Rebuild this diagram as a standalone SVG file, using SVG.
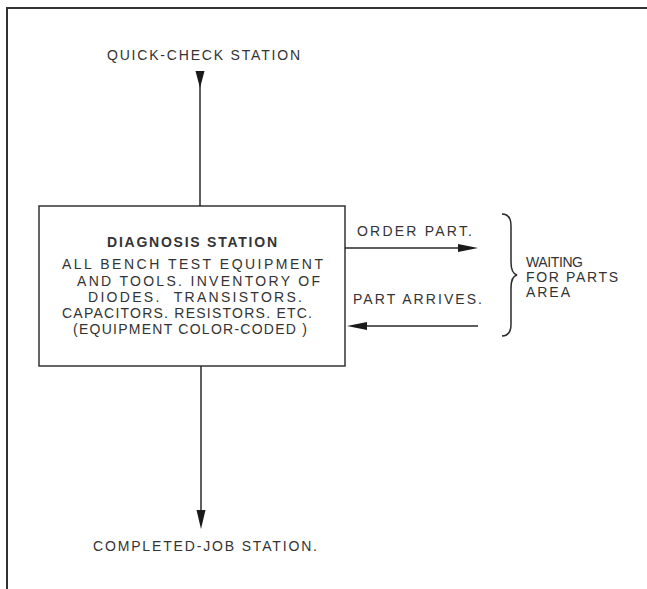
<svg xmlns="http://www.w3.org/2000/svg" width="647" height="589" viewBox="0 0 647 589">
<style>
  .t{font-family:"Liberation Sans",Arial,sans-serif;fill:#333;font-size:14px}
  .b{font-size:14px}
  .h{font-weight:bold;font-size:14px}
  .ln{stroke:#2a2a2a;stroke-width:1.5;fill:none}
  .ah{fill:#1a1a1a}
</style>
<rect width="647" height="589" fill="#fff"/>
<path d="M7,589 L7,8 L647,8" fill="none" stroke="#333" stroke-width="2"/>

<g id="quick-check">
  <text class="t" x="107" y="60" textLength="193" lengthAdjust="spacing">QUICK-CHECK STATION</text>
</g>

<g id="diagnosis">
  <rect x="39" y="206" width="306" height="160" fill="#fff" stroke="#333" stroke-width="1.5"/>
  <text class="t h" x="107" y="247" textLength="170" lengthAdjust="spacing">DIAGNOSIS STATION</text>
  <text class="t b" x="62" y="269" textLength="261" lengthAdjust="spacing">ALL BENCH TEST EQUIPMENT</text>
  <text class="t b" x="77" y="286" textLength="243" lengthAdjust="spacing">AND TOOLS. INVENTORY OF</text>
  <text class="t b" x="88" y="302" textLength="214" lengthAdjust="spacing" xml:space="preserve">DIODES.  TRANSISTORS.</text>
  <text class="t b" x="62" y="318" textLength="250" lengthAdjust="spacing">CAPACITORS. RESISTORS. ETC.</text>
  <text class="t b" x="73" y="334" textLength="234" lengthAdjust="spacing">(EQUIPMENT COLOR-CODED )</text>
</g>

<g id="waiting-area">
  <path class="ln" d="M502,214 C508,214 511,218 511,226 L511,262 C511,270 513,274 517,275 C513,276 511,280 511,288 L511,324 C511,332 508,336 502,336"/>
  <text class="t" x="526" y="267" textLength="57" lengthAdjust="spacing">WAITING</text>
  <text class="t" x="526" y="282" textLength="92" lengthAdjust="spacing">FOR PARTS</text>
  <text class="t" x="526" y="297" textLength="44" lengthAdjust="spacing">AREA</text>
</g>

<g id="completed-job">
  <text class="t" x="93" y="551" textLength="224" lengthAdjust="spacing">COMPLETED-JOB STATION.</text>
</g>

<g id="connectors">
  <line class="ln" x1="200" y1="72" x2="200" y2="206"/>
  <polygon class="ah" points="195.5,71 204.5,71 200,88"/>
  <line class="ln" x1="201" y1="366" x2="201" y2="512"/>
  <polygon class="ah" points="196.5,510 205.5,510 201,529"/>
  <line class="ln" x1="345" y1="248" x2="462" y2="248"/>
  <polygon class="ah" points="458,244 458,252 478,248"/>
  <text class="t" x="357" y="236" textLength="115" lengthAdjust="spacing">ORDER PART.</text>
  <line class="ln" x1="364" y1="326" x2="478" y2="326"/>
  <polygon class="ah" points="367,322 367,330 347,326"/>
  <text class="t" x="353" y="304" textLength="129" lengthAdjust="spacing">PART ARRIVES.</text>
</g>
</svg>
